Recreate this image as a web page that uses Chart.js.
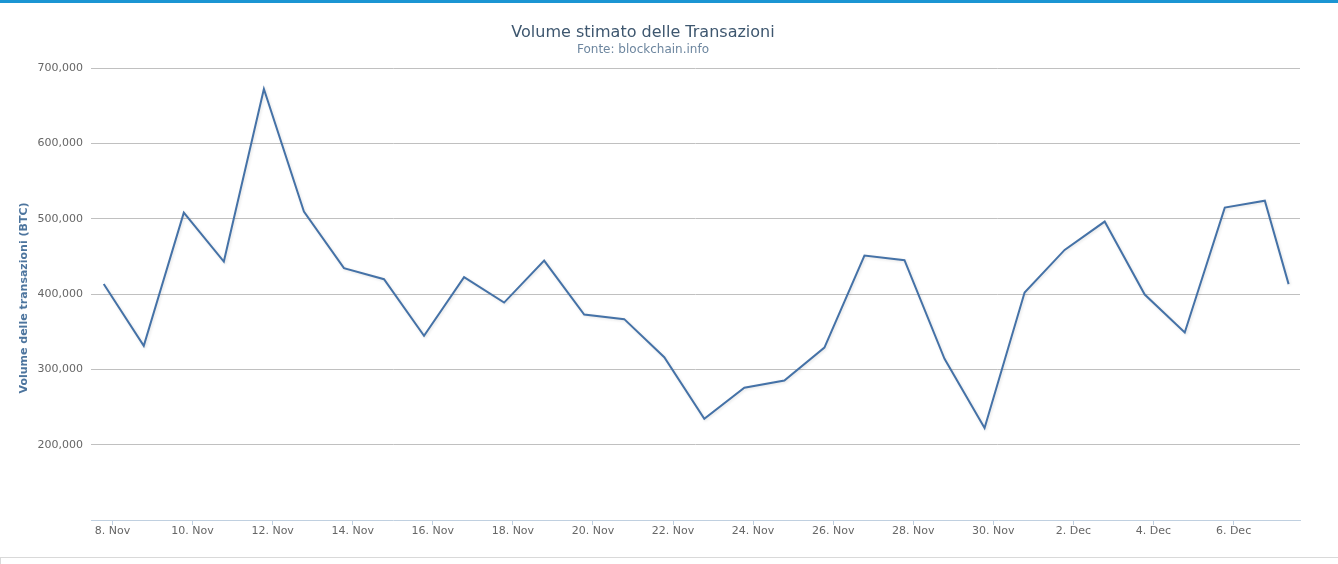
<!DOCTYPE html>
<html><head><meta charset="utf-8">
<script src="https://cdn.jsdelivr.net/npm/chart.js@4.4.1/dist/chart.umd.min.js"></script>
<style>
html,body{margin:0;padding:0;background:#fff;overflow:hidden;}
#topbar{position:absolute;left:0;top:0;width:1338px;height:3px;background:#1b95d3;}
#bottombox{position:absolute;left:0;top:557px;width:1338px;height:20px;border-top:1px solid #d9d9d9;border-left:1px solid #d9d9d9;}
#wrap{position:absolute;left:0;top:0;width:1338px;height:564px;}
</style></head><body>
<div id="topbar"></div><div id="bottombox"></div>
<div id="wrap"><canvas id="c"></canvas></div>
<script>
// ---- data ----
const timestamps = [
  '2013-11-07T18:45Z','2013-11-08T18:45Z','2013-11-09T18:45Z','2013-11-10T18:45Z','2013-11-11T18:45Z',
  '2013-11-12T18:45Z','2013-11-13T18:45Z','2013-11-14T18:45Z','2013-11-15T18:45Z','2013-11-16T18:45Z',
  '2013-11-17T18:45Z','2013-11-18T18:45Z','2013-11-19T18:45Z','2013-11-20T18:45Z','2013-11-21T18:45Z',
  '2013-11-22T18:45Z','2013-11-23T18:45Z','2013-11-24T18:45Z','2013-11-25T18:45Z','2013-11-26T18:45Z',
  '2013-11-27T18:45Z','2013-11-28T18:45Z','2013-11-29T18:45Z','2013-11-30T18:45Z','2013-12-01T18:45Z',
  '2013-12-02T18:45Z','2013-12-03T18:45Z','2013-12-04T18:45Z','2013-12-05T18:45Z','2013-12-06T18:45Z',
  '2013-12-07T09:00Z'
];
const volumes = [
  413500, 331300, 508300, 443300, 672500, 509600, 434500, 419900, 344600, 422500,
  388800, 444600, 372900, 366800, 316300, 234400, 275600, 285300, 329100, 451200,
  445100, 314100, 222100, 402100, 458800, 496400, 399500, 349000, 515000, 524200,
  413300
];
const tickDates = ['2013-11-08T00:00Z','2013-11-10T00:00Z','2013-11-12T00:00Z','2013-11-14T00:00Z',
  '2013-11-16T00:00Z','2013-11-18T00:00Z','2013-11-20T00:00Z','2013-11-22T00:00Z','2013-11-24T00:00Z',
  '2013-11-26T00:00Z','2013-11-28T00:00Z','2013-11-30T00:00Z','2013-12-02T00:00Z','2013-12-04T00:00Z',
  '2013-12-06T00:00Z'];
const tickLabels = ['8. Nov','10. Nov','12. Nov','14. Nov','16. Nov','18. Nov','20. Nov','22. Nov',
  '24. Nov','26. Nov','28. Nov','30. Nov','2. Dec','4. Dec','6. Dec'];
const yTicks = [100000, 200000, 300000, 400000, 500000, 600000, 700000];
const titleText = 'Volume stimato delle Transazioni';
const subtitleText = 'Fonte: blockchain.info';
const yTitleText = 'Volume delle transazioni (BTC)';
const xMinDate = '2013-11-07T11:07Z';
const xMaxDate = '2013-12-07T15:50Z';

// ---- chart ----
const base = Date.parse('2013-11-08T00:00Z');
const toDay = s => (Date.parse(s) - base) / 864e5;
const FONT = '"DejaVu Sans", Verdana, sans-serif';
Chart.defaults.font.family = FONT;

const shadowPlugin = {
  id: 'lineShadow',
  beforeDatasetDraw(chart) {
    const ctx = chart.ctx; ctx.save();
    ctx.shadowColor = 'rgba(0,0,0,0.12)'; ctx.shadowBlur = 3;
    ctx.shadowOffsetX = 1; ctx.shadowOffsetY = 1;
  },
  afterDatasetDraw(chart) { chart.ctx.restore(); }
};

const titlesPlugin = {
  id: 'titles',
  afterDraw(chart) {
    const ctx = chart.ctx;
    ctx.save();
    ctx.textAlign = 'center';
    ctx.textBaseline = 'alphabetic';
    ctx.fillStyle = '#3E576F';
    ctx.font = '16px ' + FONT;
    ctx.fillText(titleText, 643, 37);
    ctx.fillStyle = '#6D869F';
    ctx.font = '12px ' + FONT;
    ctx.fillText(subtitleText, 643, 53);
    ctx.translate(24, 298);
    ctx.rotate(-Math.PI / 2);
    ctx.textBaseline = 'middle';
    ctx.fillStyle = '#4D759E';
    ctx.font = 'bold 11px ' + FONT;
    ctx.fillText(yTitleText, 0, 0);
    ctx.restore();
  }
};

new Chart(document.getElementById('c'), {
  type: 'line',
  data: {
    datasets: [{
      data: timestamps.map((t, i) => ({ x: toDay(t), y: volumes[i] })),
      borderColor: '#4572A7', borderWidth: 2, pointRadius: 0, tension: 0, fill: false
    }]
  },
  options: {
    responsive: true, maintainAspectRatio: false, animation: false,
    layout: { padding: { left: 0, right: 38, top: 68.3, bottom: 0 } },
    plugins: {
      legend: { display: false }, tooltip: { enabled: false },
      title: { display: false }, subtitle: { display: false }
    },
    scales: {
      x: {
        type: 'linear', min: toDay(xMinDate), max: toDay(xMaxDate),
        afterBuildTicks: s => { s.ticks = tickDates.map(d => ({ value: toDay(d) })); },
        afterFit: s => { s.height = 44; },
        ticks: { callback: (v, i) => tickLabels[i], color: '#666', font: { size: 11 },
          padding: 0, maxRotation: 0, autoSkip: false },
        grid: { drawOnChartArea: false, drawTicks: true, tickLength: 5, color: '#C0D0E0' },
        border: { color: '#C0D0E0', width: 1 }
      },
      y: {
        min: 100000, max: 700000,
        afterBuildTicks: s => { s.ticks = yTicks.map(v => ({ value: v })); },
        afterFit: s => { s.width = 91; },
        ticks: { callback: v => v === 100000 ? '' : v.toLocaleString('en-US'),
          color: '#666', font: { size: 11 }, padding: 8 },
        grid: { color: c => (c.tick && c.tick.value === 100000) ? 'rgba(0,0,0,0)' : '#C0C0C0',
          drawTicks: false },
        border: { display: false },
        title: { display: false }
      }
    }
  },
  plugins: [shadowPlugin, titlesPlugin]
});
</script>
</body></html>
